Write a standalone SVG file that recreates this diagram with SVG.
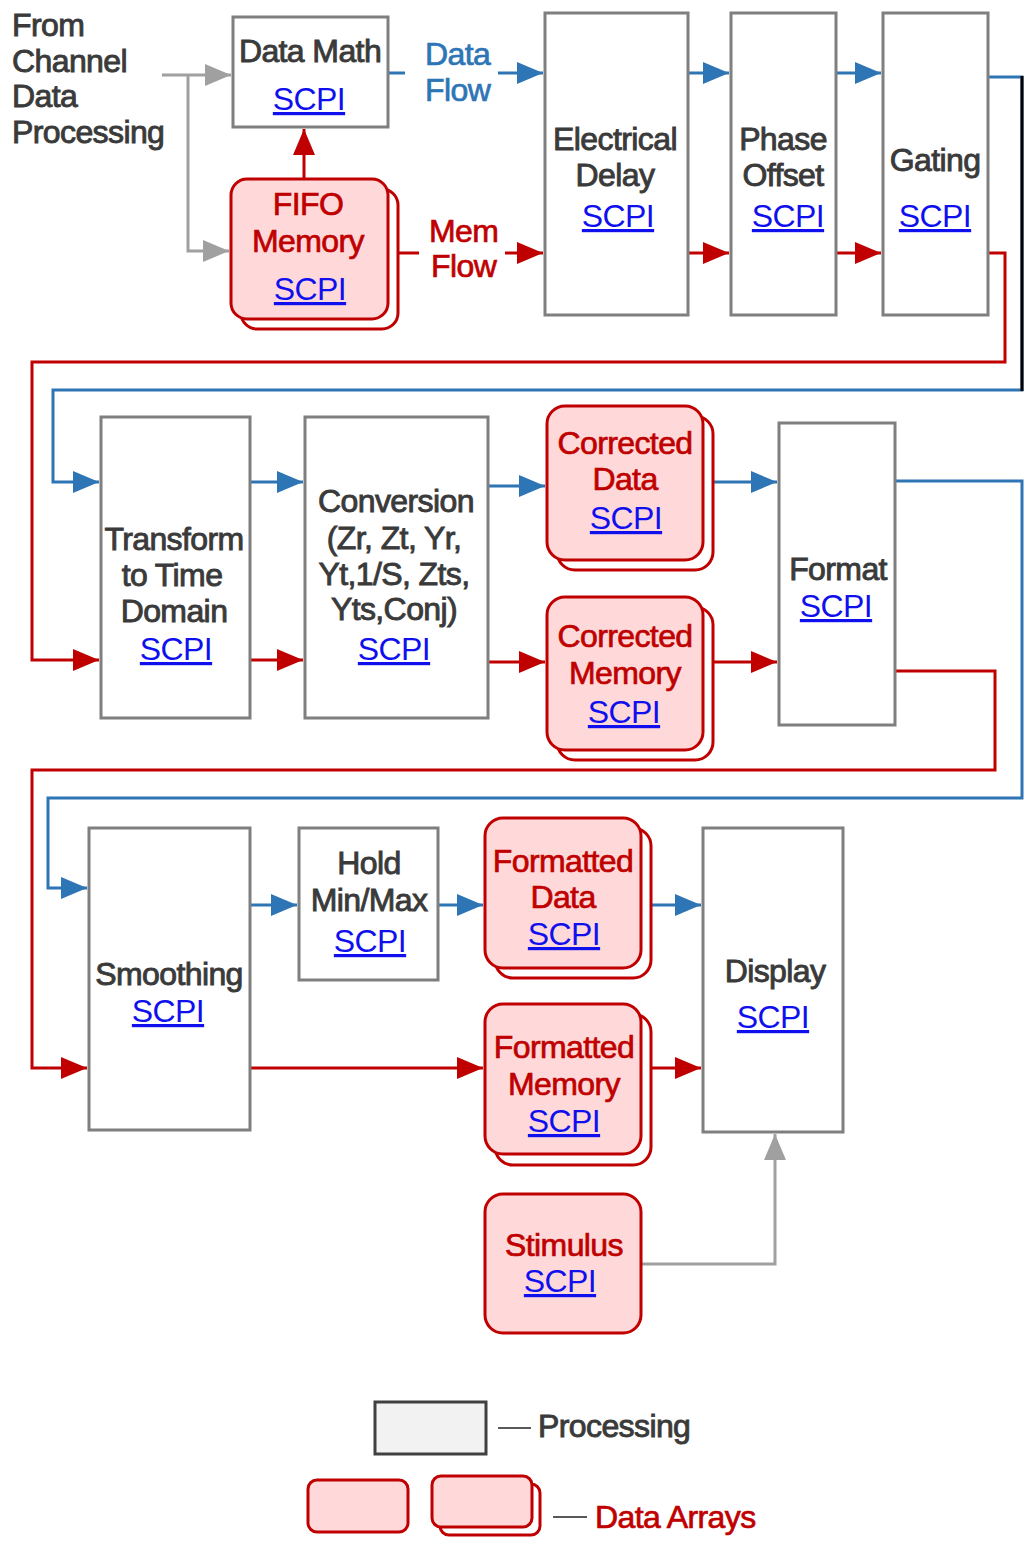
<svg xmlns="http://www.w3.org/2000/svg" width="1027" height="1544" viewBox="0 0 1027 1544">
  <style>
    text { font-family: "Liberation Sans", Arial, sans-serif; font-size: 32px; letter-spacing: -0.6px; }
    .lbl { fill: #3a3a3a; stroke: #3a3a3a; stroke-width: 0.9; text-anchor: middle; }
    .lbl-l { fill: #3a3a3a; stroke: #3a3a3a; stroke-width: 0.9; }
    .red { fill: #c00000; stroke: #c00000; stroke-width: 0.7; text-anchor: middle; }
    .red-l { fill: #c00000; stroke: #c00000; stroke-width: 0.7; }
    .flow { fill: #2e75b6; stroke: #2e75b6; stroke-width: 0.7; }
    .link { fill: #1010ee; text-anchor: middle; text-decoration: underline; }
    .proc { fill: #ffffff; stroke: #7f7f7f; stroke-width: 3; }
    .arr { fill: #ffd9d9; stroke: #c00000; stroke-width: 3; }
    .arr-back { fill: #ffffff; stroke: #c00000; stroke-width: 3; }
    .c-blue { fill: none; stroke: #2e75b6; stroke-width: 3; }
    .c-red { fill: none; stroke: #c00000; stroke-width: 3; }
    .c-gray { fill: none; stroke: #a0a0a0; stroke-width: 3; }
  </style>
  <defs>
    <marker id="ah-blue" markerUnits="userSpaceOnUse" viewBox="0 0 26 22" markerWidth="26" markerHeight="22" refX="26" refY="11" orient="auto">
      <path d="M0,0 L26,11 L0,22 Z" fill="#2e75b6"/>
    </marker>
    <marker id="ah-red" markerUnits="userSpaceOnUse" viewBox="0 0 26 22" markerWidth="26" markerHeight="22" refX="26" refY="11" orient="auto">
      <path d="M0,0 L26,11 L0,22 Z" fill="#c00000"/>
    </marker>
    <marker id="ah-gray" markerUnits="userSpaceOnUse" viewBox="0 0 26 22" markerWidth="26" markerHeight="22" refX="26" refY="11" orient="auto">
      <path d="M0,0 L26,11 L0,22 Z" fill="#a0a0a0"/>
    </marker>
  </defs>

  <rect width="1027" height="1544" fill="#ffffff"/>

  <!-- source label -->
  <g id="source">
    <text class="lbl-l" x="12" y="36">From</text>
    <text class="lbl-l" x="12" y="72">Channel</text>
    <text class="lbl-l" x="12" y="107">Data</text>
    <text class="lbl-l" x="12" y="143">Processing</text>
  </g>

  <!-- connectors -->
  <g id="connectors">
    <!-- input feed -->
    <path class="c-gray" d="M162,75 H231" marker-end="url(#ah-gray)"/>
    <path class="c-gray" d="M188,75 V251 H229" marker-end="url(#ah-gray)"/>
    <path class="c-gray" d="M641,1264 H775 V1134" marker-end="url(#ah-gray)"/>

    <!-- data flow (blue) -->
    <path class="c-blue" d="M389,73 H405"/>
    <path class="c-blue" d="M498,73 H543" marker-end="url(#ah-blue)"/>
    <path class="c-blue" d="M689,73 H729" marker-end="url(#ah-blue)"/>
    <path class="c-blue" d="M837,73 H881" marker-end="url(#ah-blue)"/>
    <path class="c-blue" d="M989,77 H1022 V390 H53 V482 H99" marker-end="url(#ah-blue)"/>
    <path d="M1022,76 V391" fill="none" stroke="#000000" stroke-width="3"/>
    <path class="c-blue" d="M251,482 H303" marker-end="url(#ah-blue)"/>
    <path class="c-blue" d="M489,486 H545" marker-end="url(#ah-blue)"/>
    <path class="c-blue" d="M713,482 H777" marker-end="url(#ah-blue)"/>
    <path class="c-blue" d="M896,481 H1022 V798 H48 V888 H87" marker-end="url(#ah-blue)"/>
    <path class="c-blue" d="M251,905 H297" marker-end="url(#ah-blue)"/>
    <path class="c-blue" d="M439,905 H483" marker-end="url(#ah-blue)"/>
    <path class="c-blue" d="M651,905 H701" marker-end="url(#ah-blue)"/>

    <!-- memory flow (red) -->
    <path class="c-red" d="M304,178 V129" marker-end="url(#ah-red)"/>
    <path class="c-red" d="M398,253 H419"/>
    <path class="c-red" d="M505,253 H543" marker-end="url(#ah-red)"/>
    <path class="c-red" d="M689,253 H729" marker-end="url(#ah-red)"/>
    <path class="c-red" d="M837,253 H881" marker-end="url(#ah-red)"/>
    <path class="c-red" d="M989,253 H1005 V362 H32 V660 H99" marker-end="url(#ah-red)"/>
    <path class="c-red" d="M251,660 H303" marker-end="url(#ah-red)"/>
    <path class="c-red" d="M489,662 H545" marker-end="url(#ah-red)"/>
    <path class="c-red" d="M713,662 H777" marker-end="url(#ah-red)"/>
    <path class="c-red" d="M896,671 H995 V770 H32 V1068 H87" marker-end="url(#ah-red)"/>
    <path class="c-red" d="M251,1068 H483" marker-end="url(#ah-red)"/>
    <path class="c-red" d="M651,1068 H701" marker-end="url(#ah-red)"/>
  </g>

  <!-- flow labels -->
  <g id="flow-labels">
    <text class="flow" x="425" y="65">Data</text>
    <text class="flow" x="425" y="101">Flow</text>
    <text class="red-l" x="429" y="242">Mem</text>
    <text class="red-l" x="431" y="277">Flow</text>
  </g>

  <!-- row 1 -->
  <g id="data-math">
    <rect class="proc" x="233" y="17" width="155" height="110"/>
    <text class="lbl" x="310" y="62">Data Math</text>
    <text class="link" x="309" y="110">SCPI</text>
  </g>
  <g id="fifo-memory">
    <rect class="arr-back" x="241" y="189" width="157" height="140" rx="16"/>
    <rect class="arr" x="231" y="179" width="157" height="140" rx="16"/>
    <text class="red" x="308" y="215">FIFO</text>
    <text class="red" x="308" y="252">Memory</text>
    <text class="link" x="310" y="300">SCPI</text>
  </g>
  <g id="electrical-delay">
    <rect class="proc" x="545" y="13" width="143" height="302"/>
    <text class="lbl" x="615" y="150">Electrical</text>
    <text class="lbl" x="615" y="186">Delay</text>
    <text class="link" x="618" y="227">SCPI</text>
  </g>
  <g id="phase-offset">
    <rect class="proc" x="731" y="13" width="105" height="302"/>
    <text class="lbl" x="783" y="150">Phase</text>
    <text class="lbl" x="783" y="186">Offset</text>
    <text class="link" x="788" y="227">SCPI</text>
  </g>
  <g id="gating">
    <rect class="proc" x="883" y="13" width="105" height="302"/>
    <text class="lbl" x="935" y="171">Gating</text>
    <text class="link" x="935" y="227">SCPI</text>
  </g>

  <!-- row 2 -->
  <g id="transform">
    <rect class="proc" x="101" y="417" width="149" height="301"/>
    <text class="lbl" x="174" y="550">Transform</text>
    <text class="lbl" x="172" y="586">to Time</text>
    <text class="lbl" x="174" y="622">Domain</text>
    <text class="link" x="176" y="660">SCPI</text>
  </g>
  <g id="conversion">
    <rect class="proc" x="305" y="417" width="183" height="301"/>
    <text class="lbl" x="396" y="512">Conversion</text>
    <text class="lbl" x="394" y="549">(Zr, Zt, Yr,</text>
    <text class="lbl" x="394" y="585">Yt,1/S, Zts,</text>
    <text class="lbl" x="394" y="620">Yts,Conj)</text>
    <text class="link" x="394" y="660">SCPI</text>
  </g>
  <g id="corrected-data">
    <rect class="arr-back" x="557" y="416" width="156" height="154" rx="18"/>
    <rect class="arr" x="547" y="406" width="156" height="154" rx="18"/>
    <text class="red" x="625" y="454">Corrected</text>
    <text class="red" x="625" y="490">Data</text>
    <text class="link" x="626" y="529">SCPI</text>
  </g>
  <g id="corrected-memory">
    <rect class="arr-back" x="557" y="607" width="156" height="153" rx="18"/>
    <rect class="arr" x="547" y="597" width="156" height="153" rx="18"/>
    <text class="red" x="625" y="647">Corrected</text>
    <text class="red" x="625" y="684">Memory</text>
    <text class="link" x="624" y="723">SCPI</text>
  </g>
  <g id="format">
    <rect class="proc" x="779" y="423" width="116" height="302"/>
    <text class="lbl" x="838" y="580">Format</text>
    <text class="link" x="836" y="617">SCPI</text>
  </g>

  <!-- row 3 -->
  <g id="smoothing">
    <rect class="proc" x="89" y="828" width="161" height="302"/>
    <text class="lbl" x="169" y="985">Smoothing</text>
    <text class="link" x="168" y="1022">SCPI</text>
  </g>
  <g id="hold-min-max">
    <rect class="proc" x="299" y="828" width="139" height="152"/>
    <text class="lbl" x="369" y="874">Hold</text>
    <text class="lbl" x="369" y="911">Min/Max</text>
    <text class="link" x="370" y="952">SCPI</text>
  </g>
  <g id="formatted-data">
    <rect class="arr-back" x="495" y="828" width="156" height="150" rx="18"/>
    <rect class="arr" x="485" y="818" width="156" height="150" rx="18"/>
    <text class="red" x="563" y="872">Formatted</text>
    <text class="red" x="563" y="908">Data</text>
    <text class="link" x="564" y="945">SCPI</text>
  </g>
  <g id="formatted-memory">
    <rect class="arr-back" x="495" y="1014" width="156" height="151" rx="18"/>
    <rect class="arr" x="485" y="1004" width="156" height="150" rx="18"/>
    <text class="red" x="564" y="1058">Formatted</text>
    <text class="red" x="564" y="1095">Memory</text>
    <text class="link" x="564" y="1132">SCPI</text>
  </g>
  <g id="display">
    <rect class="proc" x="703" y="828" width="140" height="304"/>
    <text class="lbl" x="775" y="982">Display</text>
    <text class="link" x="773" y="1028">SCPI</text>
  </g>
  <g id="stimulus">
    <rect class="arr" x="485" y="1194" width="156" height="139" rx="18"/>
    <text class="red" x="564" y="1256">Stimulus</text>
    <text class="link" x="560" y="1292">SCPI</text>
  </g>

  <!-- legend -->
  <g id="legend">
    <rect x="375" y="1402" width="111" height="52" fill="#f2f2f2" stroke="#404040" stroke-width="3"/>
    <path d="M498,1428 H531" stroke="#595959" stroke-width="2" fill="none"/>
    <text class="lbl-l" x="538" y="1437">Processing</text>
    <rect class="arr" x="308" y="1480" width="100" height="52" rx="9"/>
    <rect class="arr-back" x="440" y="1484" width="100" height="51" rx="9"/>
    <rect class="arr" x="432" y="1476" width="100" height="51" rx="9"/>
    <path d="M553,1517 H587" stroke="#595959" stroke-width="2" fill="none"/>
    <text class="red-l" x="595" y="1528">Data Arrays</text>
  </g>
</svg>
